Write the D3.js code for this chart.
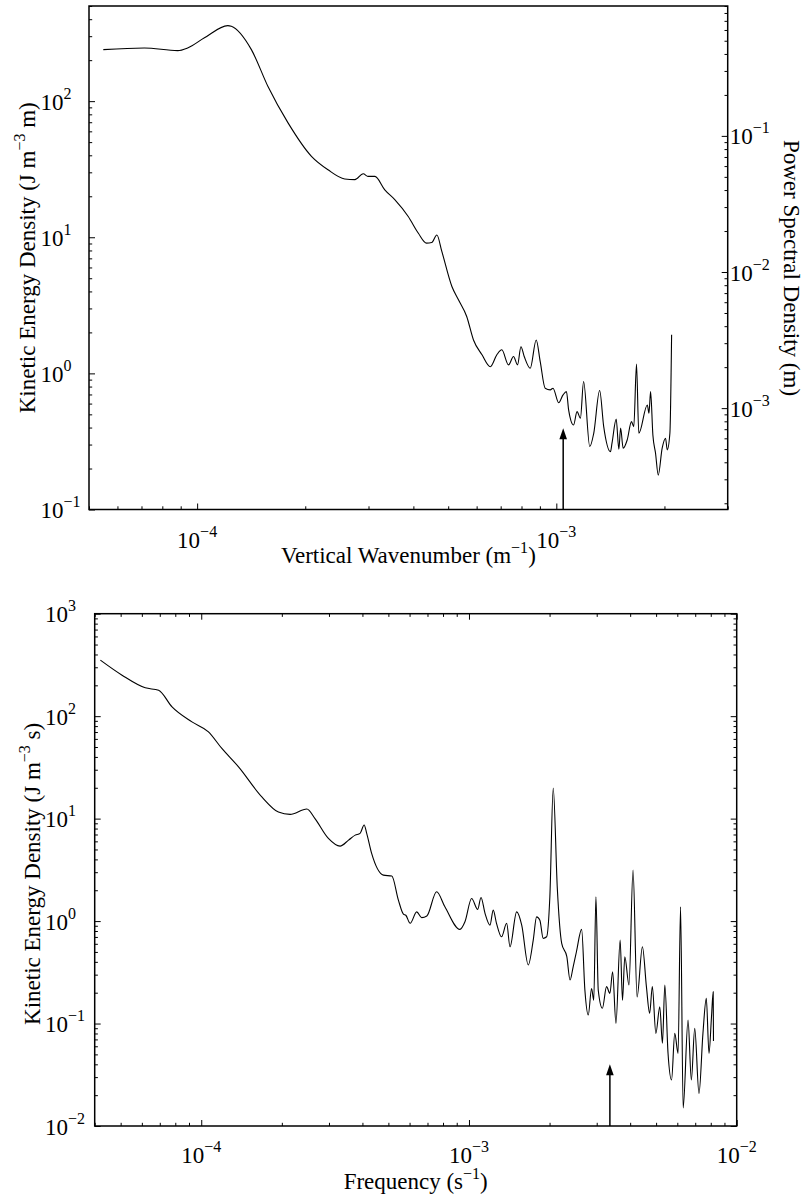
<!DOCTYPE html>
<html>
<head>
<meta charset="utf-8">
<script src="https://cdn.jsdelivr.net/npm/d3@7"></script>
<style>
  body { margin: 0; background: #fff; }
  svg { display: block; font-family: "Liberation Serif", "Times New Roman", serif; }
  .tick line { stroke: #000; stroke-width: 1; }
</style>
</head>
<body>
<script>
// ---- data ----
// upper panel: vertical wavenumber (1/m) vs kinetic energy density (J m^-3 m)
const wavenumber = [5.48e-5, 7.13e-5, 8.83e-5, 9.41e-5, 1.048e-4, 1.217e-4, 1.245e-4, 1.416e-4, 1.575e-4, 1.791e-4,
  2.081e-4, 2.314e-4, 2.576e-4, 2.75e-4, 2.90e-4, 2.99e-4, 3.125e-4, 3.33e-4, 3.55e-4, 3.87e-4,
  4.13e-4, 4.35e-4, 4.50e-4, 4.65e-4, 4.80e-4, 5.12e-4, 5.34e-4, 5.63e-4, 5.88e-4, 6.21e-4,
  6.55e-4, 6.83e-4, 7.05e-4, 7.36e-4, 7.60e-4, 7.80e-4, 7.97e-4, 8.14e-4, 8.46e-4, 8.79e-4,
  9.02e-4, 9.31e-4, 9.62e-4, 9.79e-4, 1.015e-3, 1.044e-3, 1.067e-3, 1.082e-3, 1.117e-3, 1.142e-3,
  1.167e-3, 1.191e-3, 1.239e-3, 1.271e-3, 1.320e-3, 1.355e-3, 1.415e-3, 1.429e-3, 1.468e-3, 1.493e-3,
  1.510e-3, 1.535e-3, 1.575e-3, 1.619e-3, 1.643e-3, 1.672e-3, 1.697e-3, 1.792e-3, 1.811e-3, 1.830e-3,
  1.857e-3, 1.889e-3, 1.922e-3, 1.971e-3, 2.014e-3, 2.036e-3, 2.071e-3, 2.094e-3];
const keWavenumber = [239, 246, 235, 246, 292, 359, 355, 239, 128, 69.2,
  39.3, 31.3, 26.8, 26.5, 29.3, 28.0, 28.0, 22.3, 18.9, 14.2,
  10.7, 9.06, 9.16, 10.4, 7.87, 4.35, 3.47, 2.62, 1.76, 1.37,
  1.12, 1.37, 1.49, 1.155, 1.33, 1.155, 1.57, 1.33, 1.09, 1.76,
  1.22, 0.778, 0.757, 0.778, 0.609, 0.695, 0.735, 0.540, 0.418, 0.524,
  0.469, 0.871, 0.290, 0.363, 0.748, 0.406, 0.266, 0.307, 0.461, 0.277,
  0.396, 0.282, 0.324, 0.442, 0.406, 1.17, 0.363, 0.586, 0.509, 0.735,
  0.353, 0.259, 0.179, 0.282, 0.334, 0.274, 0.363, 1.92];
const psdPerKe = 1.8e-3;            // right-hand axis: power spectral density (m) = KE * psdPerKe
const arrowWavenumber = 1.045e-3;
const arrowWavenumberTip = 0.395;

// lower panel: frequency (1/s) vs kinetic energy density (J m^-3 s)
const frequency = [4.20e-5, 5.06e-5, 6.18e-5, 6.93e-5, 7.78e-5, 9.23e-5, 1.064e-4, 1.194e-4, 1.378e-4, 1.684e-4,
  1.942e-4, 2.147e-4, 2.48e-4, 2.66e-4, 2.985e-4, 3.30e-4, 3.55e-4, 3.76e-4, 3.92e-4, 4.06e-4,
  4.15e-4, 4.33e-4, 4.79e-4, 5.15e-4, 5.45e-4, 5.69e-4, 5.81e-4, 6.03e-4, 6.38e-4, 6.66e-4,
  6.96e-4, 7.57e-4, 8.13e-4, 9.25e-4, 9.66e-4, 1.023e-3, 1.078e-3, 1.109e-3, 1.148e-3, 1.198e-3,
  1.232e-3, 1.267e-3, 1.323e-3, 1.383e-3, 1.423e-3, 1.507e-3, 1.574e-3, 1.665e-3, 1.738e-3, 1.789e-3,
  1.84e-3, 1.893e-3, 1.95e-3, 2.005e-3, 2.064e-3, 2.138e-3, 2.22e-3, 2.32e-3, 2.385e-3, 2.45e-3,
  2.52e-3, 2.635e-3, 2.71e-3, 2.79e-3, 2.87e-3, 2.925e-3, 2.98e-3, 3.04e-3, 3.15e-3, 3.265e-3,
  3.36e-3, 3.44e-3, 3.54e-3, 3.67e-3, 3.745e-3, 3.82e-3, 3.96e-3, 4.10e-3, 4.245e-3, 4.445e-3,
  4.60e-3, 4.73e-3, 4.84e-3, 4.99e-3, 5.16e-3, 5.28e-3, 5.39e-3, 5.54e-3, 5.71e-3, 5.87e-3,
  6.04e-3, 6.17e-3, 6.31e-3, 6.58e-3, 6.77e-3, 6.97e-3, 7.23e-3, 7.48e-3, 7.70e-3, 7.88e-3,
  8.05e-3, 8.17e-3, 8.19e-3];
const keFrequency = [352, 251, 189, 179, 123, 87.9, 70.3, 48.4, 32.0, 16.3,
  11.6, 11.0, 12.4, 10.0, 6.41, 5.39, 6.17, 6.90, 7.18, 8.65,
  7.18, 4.57, 2.81, 2.75, 1.60, 1.17, 1.14, 0.951, 1.23, 1.08,
  1.12, 1.93, 1.38, 0.830, 0.985, 1.66, 1.30, 1.70, 1.19, 0.914,
  1.28, 0.951, 0.703, 0.951, 0.561, 1.23, 0.914, 0.373, 0.653, 1.10,
  1.02, 0.678, 0.703, 1.73, 19.9, 2.08, 0.605, 0.449, 0.266, 0.358,
  0.502, 0.830, 0.212, 0.121, 0.220, 0.169, 1.73, 0.212, 0.141, 0.229,
  0.197, 0.320, 0.1005, 0.653, 0.169, 0.449, 0.238, 3.15, 0.182, 0.561,
  0.229, 0.126, 0.229, 0.0802, 0.146, 0.0642, 0.238, 0.0512, 0.0281, 0.0802,
  0.0512, 1.38, 0.0150, 0.108, 0.0281, 0.0897, 0.0208, 0.0802, 0.176, 0.0512,
  0.116, 0.204, 0.0675];
const arrowFrequency = 3.36e-3;
const arrowFrequencyTip = 0.04;

// axis ranges and labelled ticks
const wavenumberDomain = [5e-5, 3e-3];
const keWavenumberDomain = [0.1, 500];
const frequencyDomain = [4e-5, 1e-2];
const keFrequencyDomain = [1e-2, 1e3];
const wavenumberTicks = [1e-4, 1e-3];
const keWavenumberTicks = [1e-1, 1e0, 1e1, 1e2];
const psdTicks = [1e-3, 1e-2, 1e-1];
const frequencyTicks = [1e-4, 1e-3, 1e-2];
const keFrequencyTicks = [1e-2, 1e-1, 1e0, 1e1, 1e2, 1e3];

const svgWidth = 807;
const svgHeight = 1195;
const fontBig = 23, fontSup = 16;

const svg = d3.select("body").append("svg")
    .attr("width", svgWidth)
    .attr("height", svgHeight);

const panelA = {left: 89, right: 727.7, top: 6, bottom: 509.5};
const panelB = {left: 94.7, right: 736.7, top: 613.7, bottom: 1126};

function expText(v) {
    const e = Math.round(Math.log10(v));
    return (e < 0 ? "\u2212" : "") + Math.abs(e);
}

// ticks drawn inward, minor ones shorter
function tickAxis(g, axisFn, scale, majors, tx, ty) {
    const minors = scale.ticks().filter(v => !majors.some(m => Math.abs(m - v) / m < 1e-6));
    const gm = g.append("g").attr("transform", `translate(${tx},${ty})`)
        .call(axisFn(scale).tickValues(minors).tickSize(-3.2).tickFormat(""));
    gm.select(".domain").remove();
    const gM = g.append("g").attr("transform", `translate(${tx},${ty})`)
        .call(axisFn(scale).tickValues(majors).tickSize(-6).tickFormat(""));
    gM.select(".domain").remove();
}

function xLabels(g, scale, values, baseline) {
    values.forEach(v => {
        const t = g.append("text")
            .attr("x", scale(v)).attr("y", baseline)
            .attr("text-anchor", "middle")
            .style("font-size", fontBig + "px");
        t.append("tspan").text("10");
        t.append("tspan").attr("dy", -11).style("font-size", fontSup + "px").text(expText(v));
    });
}

function yLabels(g, scale, values, xStart, dyBase) {
    values.forEach(v => {
        const t = g.append("text")
            .attr("x", xStart).attr("y", scale(v) + dyBase)
            .attr("text-anchor", "start")
            .style("font-size", fontBig + "px");
        t.append("tspan").text("10");
        t.append("tspan").attr("dy", -11).style("font-size", fontSup + "px").text(expText(v));
    });
}

function titleText(g, x, y, rotate, before, sup, after) {
    const t = g.append("text")
        .attr("transform", `translate(${x},${y}) rotate(${rotate})`)
        .attr("text-anchor", "middle")
        .style("font-size", fontBig + "px");
    t.append("tspan").text(before);
    if (sup) t.append("tspan").attr("dy", -10).style("font-size", fontSup + "px").text(sup);
    if (after) t.append("tspan").attr("dy", 10).text(after);
}

function arrow(g, x, yBase, yTip) {
    g.append("line")
        .attr("x1", x).attr("x2", x)
        .attr("y1", yBase).attr("y2", yTip + 8)
        .attr("stroke", "#000").attr("stroke-width", 1.5);
    g.append("path")
        .attr("d", `M${x},${yTip} L${x - 3.8},${yTip + 11} L${x + 3.8},${yTip + 11} Z`)
        .attr("fill", "#000");
}

function frame(g, p) {
    g.append("rect")
        .attr("x", p.left).attr("y", p.top)
        .attr("width", p.right - p.left).attr("height", p.bottom - p.top)
        .attr("fill", "none").attr("stroke", "#000").attr("stroke-width", 1.5);
}

// ===== upper panel =====
const gA = svg.append("g");
const xA = d3.scaleLog().domain(wavenumberDomain).range([panelA.left, panelA.right]);
const yA = d3.scaleLog().domain(keWavenumberDomain).range([panelA.bottom, panelA.top]);
const yPsd = d3.scaleLog()
    .domain(keWavenumberDomain.map(v => v * psdPerKe))
    .range([panelA.bottom, panelA.top]);

tickAxis(gA, d3.axisBottom, xA, wavenumberTicks, 0, panelA.bottom);
tickAxis(gA, d3.axisLeft, yA, keWavenumberTicks, panelA.left, 0);
tickAxis(gA, d3.axisRight, yPsd, psdTicks, panelA.right, 0);

const lineA = d3.line()
    .x((d, i) => xA(wavenumber[i]))
    .y((d, i) => yA(keWavenumber[i]))
    .curve(d3.curveMonotoneX);
gA.append("path")
    .datum(wavenumber)
    .attr("d", lineA)
    .attr("fill", "none")
    .attr("stroke", "#000")
    .attr("stroke-width", 1.1);

arrow(gA, xA(arrowWavenumber), panelA.bottom, yA(arrowWavenumberTip));
frame(gA, panelA);

xLabels(gA, xA, wavenumberTicks, panelA.bottom + 38.5);
yLabels(gA, yA, keWavenumberTicks, 40.5, 8.5);
yLabels(gA, yPsd, psdTicks, panelA.right + 2, 8.5);

titleText(gA, (panelA.left + panelA.right) / 2, 563, 0, "Vertical Wavenumber (m", "\u22121", ")");
titleText(gA, 35, (panelA.top + panelA.bottom) / 2, -90, "Kinetic Energy Density (J m", "\u22123", " m)");
titleText(gA, 784, 268, 90, "Power Spectral Density (m)", "", "");

// ===== lower panel =====
const gB = svg.append("g");
const xB = d3.scaleLog().domain(frequencyDomain).range([panelB.left, panelB.right]);
const yB = d3.scaleLog().domain(keFrequencyDomain).range([panelB.bottom, panelB.top]);

tickAxis(gB, d3.axisBottom, xB, frequencyTicks, 0, panelB.bottom);
tickAxis(gB, d3.axisTop, xB, frequencyTicks, 0, panelB.top);
tickAxis(gB, d3.axisLeft, yB, keFrequencyTicks, panelB.left, 0);
tickAxis(gB, d3.axisRight, yB, keFrequencyTicks, panelB.right, 0);

const lineB = d3.line()
    .x((d, i) => xB(frequency[i]))
    .y((d, i) => yB(keFrequency[i]))
    .curve(d3.curveMonotoneX);
gB.append("path")
    .datum(frequency)
    .attr("d", lineB)
    .attr("fill", "none")
    .attr("stroke", "#000")
    .attr("stroke-width", 1.1);

arrow(gB, xB(arrowFrequency), panelB.bottom, yB(arrowFrequencyTip));
frame(gB, panelB);

xLabels(gB, xB, frequencyTicks, panelB.bottom + 37);
yLabels(gB, yB, keFrequencyTicks, 45, 8.5);

titleText(gB, (panelB.left + panelB.right) / 2, 1189, 0, "Frequency (s", "\u22121", ")");
titleText(gB, 40, (panelB.top + panelB.bottom) / 2 + 4, -90, "Kinetic Energy Density (J m", "\u22123", " s)");
</script>
</body>
</html>
